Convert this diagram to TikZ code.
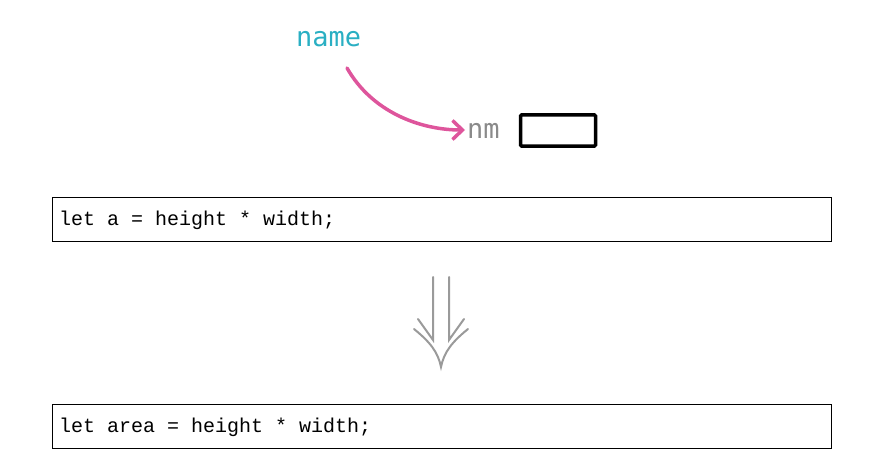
\documentclass[tikz,border=0pt]{standalone}
\usepackage{fontspec}
\setmonofont{Liberation Mono}
\newfontfamily\labelfont{DejaVu Sans Mono}
\usetikzlibrary{arrows.meta}
\definecolor{teal1}{HTML}{2AAFC3}
\definecolor{pink1}{HTML}{DE559C}
\definecolor{gray1}{HTML}{8A8A8A}
\definecolor{gray2}{HTML}{9A9A9A}
\tikzset{
  codebox/.style={draw=black, line width=1pt, minimum width=779pt, minimum height=44pt, inner sep=0pt, outer sep=0pt},
  codetext/.style={anchor=base west, inner sep=0pt, font=\ttfamily\fontsize{20}{22}\selectfont},
  lbl/.style={anchor=base west, inner sep=0pt, font=\labelfont\fontsize{27}{30}\selectfont},
}
\begin{document}
\begin{tikzpicture}[x=1pt,y=-1pt]
\useasboundingbox (0,0) rectangle (883,468);
% top labels
\node[lbl, text=teal1] (name) at (296,47) {name};
\node[lbl, text=gray1] (nm) at (467,139) {nm};
\node[draw=black, line width=3.5pt, rounded corners=1pt, minimum width=75pt, minimum height=31pt, inner sep=0pt] (slot) at (558,130.5) {};
\coordinate (arrstart) at (347,68);
\coordinate (arrend) at (465,130);
\draw[pink1, line width=3.5pt, line cap=round, -{Straight Barb[length=10pt,width=19pt,line width=3.5pt]}]
  (arrstart) .. controls (372,112) and (420,130) .. (arrend);
% code boxes
\node[codebox, anchor=north west] (box1) at (52,197) {};
\node[codetext] (t1) at (59,225) {let a = height * width;};
\node[codebox, anchor=north west] (box2) at (52,404) {};
\node[codetext] (t2) at (59,432) {let area = height * width;};
% double arrow
\coordinate (l1) at (433,277);
\coordinate (l2) at (433,340);
\coordinate (r1) at (449,277);
\coordinate (r2) at (449,340);
\draw[gray2, line width=2pt, line cap=round] (l1) -- (l2) -- (418,319);
\draw[gray2, line width=2pt, line cap=round] (r1) -- (r2) -- (464,319);
\draw[gray2, line width=2pt, line cap=round] (414,329) .. controls (430,342) and (438,352) .. (441,367) .. controls (444,352) and (452,342) .. (468,329);
\end{tikzpicture}
\end{document}
